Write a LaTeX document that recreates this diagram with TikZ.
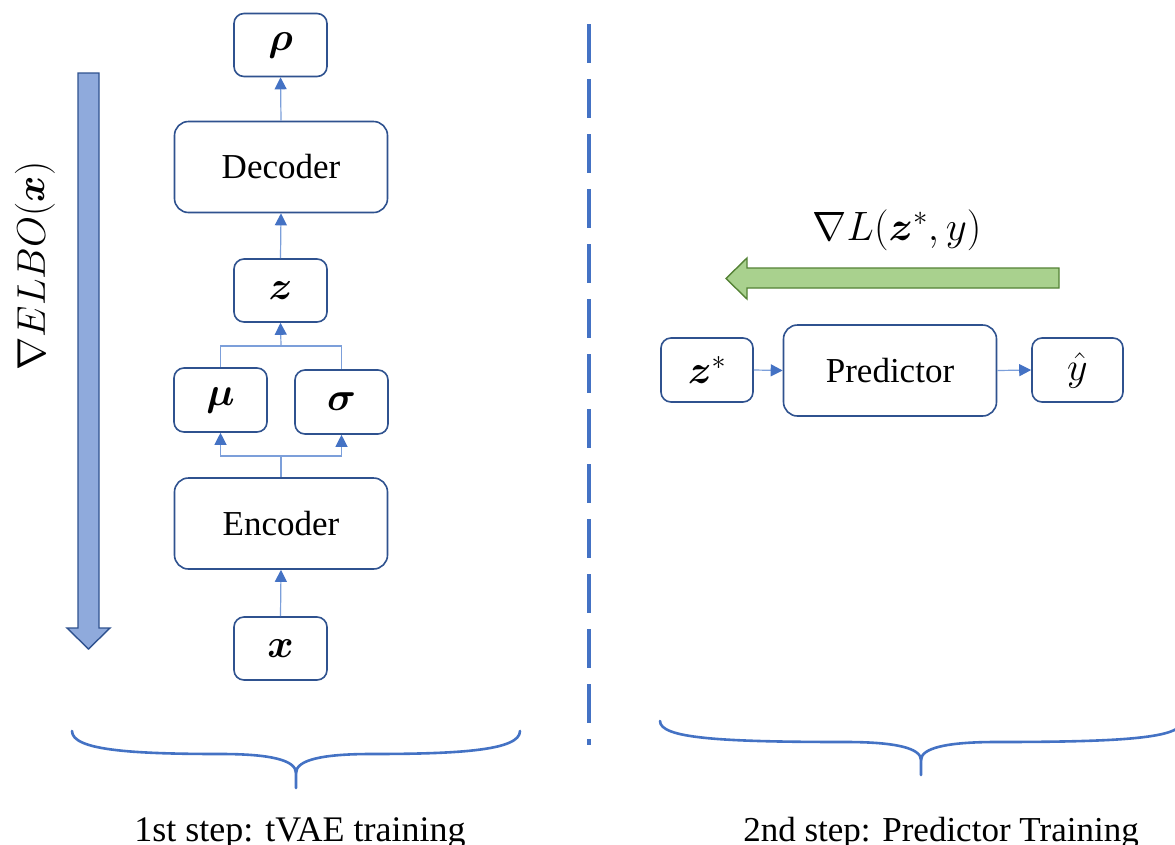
\RequirePackage{fix-cm}
\documentclass[tikz,border=0pt]{standalone}
\usepackage{amsmath,bm}
\usepackage{fontspec}
\setmainfont{Liberation Serif}
\usetikzlibrary{arrows.meta}

\definecolor{boxline}{HTML}{2F528F}
\definecolor{wire}{HTML}{4472C4}
\definecolor{wirethin}{HTML}{7C9FDA}
\definecolor{gradblue}{HTML}{8FAADC}
\definecolor{gradgreen}{HTML}{A9D18E}
\definecolor{greenline}{HTML}{548235}

\tikzset{
  blk/.style={draw=boxline, line width=1.6pt, rounded corners=10pt, inner sep=0pt,
    fill=white, font=\fontsize{35}{40}\selectfont},
  smallblk/.style={blk, minimum width=93pt, minimum height=63pt,
    font=\fontsize{40}{46}\selectfont},
  bigblk/.style={blk, rounded corners=14pt, minimum width=213pt, minimum height=91pt},
  wireline/.style={draw=wirethin, line width=1.2pt},
  link/.style={wireline, -{Triangle[length=12pt,width=12pt,color=wire]}},
  brace/.style={draw=wire, line width=2.6pt, line cap=round},
  caption/.style={anchor=base, font=\fontsize{35}{40}\selectfont},
  bigarrow/.style={line width=1.4pt, line join=miter},
}

\begin{document}
\begin{tikzpicture}[x=1pt, y=-1pt]
  \useasboundingbox[fill=white] (0,0) rectangle (1175,844);

  % ---------- first step: tVAE ----------
  \node[smallblk] (rho) at (280.5,45) {$\bm{\rho}$};
  \node[bigblk] (dec) at (281,167) {Decoder};
  \node[smallblk] (z) at (280.5,290.5) {$\bm{z}$};
  \node[smallblk, minimum height=64pt] (mu) at (220.5,400) {$\bm{\mu}$};
  \node[smallblk, minimum height=64pt] (sigma) at (341.5,402) {$\bm{\sigma}$};
  \node[bigblk] (enc) at (281,523.5) {Encoder};
  \node[smallblk] (x) at (280.5,648.5) {$\bm{x}$};

  \coordinate (split) at (281,456);
  \coordinate (merge) at (281,346);

  \draw[link] (x.north) -- (enc.south);
  \draw[wireline] (enc.north) -- (split);
  \draw[link] (split) -| (mu.south);
  \draw[link] (split) -| (sigma.south);
  \draw[wireline] (mu.north) |- (merge) -| (sigma.north);
  \draw[link] (merge) -- (z.south);
  \draw[link] (z.north) -- (dec.south);
  \draw[link] (dec.north) -- (rho.south);

  % gradient of the ELBO, pointing down
  \draw[bigarrow, draw=boxline, fill=gradblue]
    (78,73) -- (99,73) -- (99,628) -- (110,628) -- (88.5,649)
    -- (67,628) -- (78,628) -- cycle;
  \node[rotate=90, font=\fontsize{40}{48}\selectfont] (elbo) at (35,266)
    {$\nabla ELBO(\bm{x})$};

  % ---------- separator ----------
  \draw[draw=wire, line width=4pt, dash pattern=on 39pt off 16pt] (589,24) -- (589,745);

  % ---------- second step: predictor ----------
  \node[smallblk, minimum width=92pt, minimum height=64pt] (zs) at (707,370) {$\bm{z}^{*}$};
  \node[bigblk] (pred) at (890,370.5) {Predictor};
  \node[smallblk, minimum width=91pt, minimum height=64pt] (yhat) at (1077.5,370) {$\hat{y}$};

  \draw[link] (zs.east) -- (pred.west);
  \draw[link] (pred.east) -- (yhat.west);

  % gradient of the loss, pointing left
  \draw[bigarrow, draw=greenline, fill=gradgreen]
    (1059,268) -- (747,268) -- (747,258) -- (726,278.5) -- (747,299)
    -- (747,288) -- (1059,288) -- cycle;
  \node[font=\fontsize{41}{48}\selectfont] (lossgrad) at (897,230)
    {$\nabla L(\bm{z}^{*},y)$};

  % ---------- braces and captions ----------
  \draw[brace] (72,731) .. controls (72,750) and (130,754) .. (221,754)
    .. controls (270,754) and (296,760) .. (296,773) -- (296,788);
  \draw[brace] (520,731) .. controls (520,750) and (462,754) .. (371,754)
    .. controls (322,754) and (296,760) .. (296,773);

  \draw[brace] (660,721) .. controls (660,738) and (718,742) .. (846,742)
    .. controls (895,742) and (921,748) .. (921,760) -- (921,775);
  \draw[brace] (1182,721) .. controls (1182,738) and (1124,742) .. (996,742)
    .. controls (947,742) and (921,748) .. (921,760);

  \node[caption, font=\fontsize{36}{40}\selectfont] (cap1) at (300,841) {1st step: tVAE training};
  \node[caption] (cap2) at (941,841) {2nd step: Predictor Training};
\end{tikzpicture}
\end{document}
